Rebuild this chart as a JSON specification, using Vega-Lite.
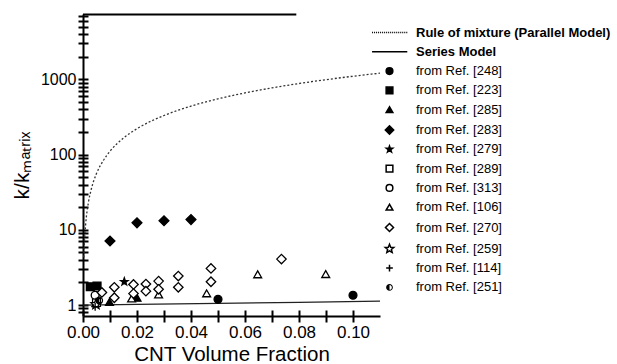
{
  "$schema": "https://vega.github.io/schema/vega-lite/v6.json",
  "width": 297,
  "height": 302,
  "autosize": "none",
  "padding": {"left": 83, "top": 14, "right": 237, "bottom": 48},
  "background": "white",
  "config": {
    "view": {"stroke": null},
    "font": "Liberation Sans",
    "axis": {"grid": false, "domainColor": "black", "domainWidth": 2, "tickColor": "black", "tickWidth": 2, "labelColor": "black", "titleColor": "black", "labelFont": "Liberation Sans", "titleFont": "Liberation Sans", "titleFontWeight": "normal", "labelFlush": false},
    "legend": {
      "orient": "none", "legendX": 300, "legendY": 12, "title": null,
      "symbolSize": 45, "symbolStrokeWidth": 1.5, "symbolOpacity": 1,
      "labelFontSize": 13, "labelColor": "black", "labelOffset": 20, "rowPadding": 5.3, "labelLimit": 300
    }
  },
  "datasets": {
    "pts": [
      {"v": 0.05, "k": 1.19, "s": "from Ref. [248]"},
      {"v": 0.10, "k": 1.35, "s": "from Ref. [248]"},
      {"v": 0.0027, "k": 1.75, "s": "from Ref. [223]"},
      {"v": 0.0052, "k": 1.79, "s": "from Ref. [223]"},
      {"v": 0.0098, "k": 1.1, "s": "from Ref. [285]"},
      {"v": 0.020, "k": 1.25, "s": "from Ref. [285]"},
      {"v": 0.010, "k": 7.1, "s": "from Ref. [283]"},
      {"v": 0.020, "k": 12.4, "s": "from Ref. [283]"},
      {"v": 0.030, "k": 13.2, "s": "from Ref. [283]"},
      {"v": 0.040, "k": 13.7, "s": "from Ref. [283]"},
      {"v": 0.0153, "k": 2.04, "s": "from Ref. [279]"},
      {"v": 0.005, "k": 1.08, "s": "from Ref. [289]"},
      {"v": 0.0045, "k": 1.35, "s": "from Ref. [313]"},
      {"v": 0.018, "k": 1.22, "s": "from Ref. [106]"},
      {"v": 0.028, "k": 1.38, "s": "from Ref. [106]"},
      {"v": 0.0458, "k": 1.43, "s": "from Ref. [106]"},
      {"v": 0.0647, "k": 2.56, "s": "from Ref. [106]"},
      {"v": 0.0899, "k": 2.58, "s": "from Ref. [106]"},
      {"v": 0.007, "k": 1.47, "s": "from Ref. [270]"},
      {"v": 0.0116, "k": 1.72, "s": "from Ref. [270]"},
      {"v": 0.0116, "k": 1.25, "s": "from Ref. [270]"},
      {"v": 0.0187, "k": 1.88, "s": "from Ref. [270]"},
      {"v": 0.0187, "k": 1.42, "s": "from Ref. [270]"},
      {"v": 0.0233, "k": 1.9, "s": "from Ref. [270]"},
      {"v": 0.0233, "k": 1.53, "s": "from Ref. [270]"},
      {"v": 0.028, "k": 2.08, "s": "from Ref. [270]"},
      {"v": 0.028, "k": 1.62, "s": "from Ref. [270]"},
      {"v": 0.0353, "k": 2.43, "s": "from Ref. [270]"},
      {"v": 0.0353, "k": 1.72, "s": "from Ref. [270]"},
      {"v": 0.0474, "k": 3.07, "s": "from Ref. [270]"},
      {"v": 0.0474, "k": 2.04, "s": "from Ref. [270]"},
      {"v": 0.0735, "k": 4.08, "s": "from Ref. [270]"},
      {"v": 0.0048, "k": 1.02, "s": "from Ref. [259]"},
      {"v": 0.0045, "k": 0.95, "s": "from Ref. [114]"},
      {"v": 0.006, "k": 1.15, "s": "from Ref. [251]"}
    ],
    "par": [
      {"v": 0.0003, "k": 4.3}, {"v": 0.0005, "k": 6.5}, {"v": 0.001, "k": 12}, {"v": 0.002, "k": 23},
      {"v": 0.003, "k": 34}, {"v": 0.005, "k": 56}, {"v": 0.0075, "k": 83}, {"v": 0.01, "k": 111},
      {"v": 0.015, "k": 166}, {"v": 0.02, "k": 221}, {"v": 0.03, "k": 331}, {"v": 0.04, "k": 441},
      {"v": 0.05, "k": 551}, {"v": 0.06, "k": 661}, {"v": 0.07, "k": 771}, {"v": 0.08, "k": 881},
      {"v": 0.09, "k": 991}, {"v": 0.1, "k": 1101}, {"v": 0.11, "k": 1211}
    ],
    "ser": [
      {"v": 0, "k": 1.0}, {"v": 0.02, "k": 1.02}, {"v": 0.05, "k": 1.053}, {"v": 0.08, "k": 1.087}, {"v": 0.11, "k": 1.124}
    ],
    "top": [
      {"v": 0, "k": 7300}, {"v": 0.079, "k": 7300}
    ]
  },
  "resolve": {"axis": {"x": "independent", "y": "independent"}},
  "layer": [
    {
      "data": {"name": "top"},
      "mark": {"type": "line", "color": "black", "strokeWidth": 2},
      "encoding": {
        "x": {"field": "v", "type": "quantitative", "scale": {"domain": [0, 0.11], "nice": false, "zero": false},
          "axis": {"orient": "bottom", "values": [0, 0.01, 0.02, 0.03, 0.04, 0.05, 0.06, 0.07, 0.08, 0.09, 0.1], "labels": false, "title": null, "domain": false, "tickSize": -6,
            "encode": {"ticks": {"update": {"y2": {"signal": "round(datum.value*100) % 2 == 0 ? -6 : -3"}}}}}},
        "y": {"field": "k", "type": "quantitative", "scale": {"type": "log", "domain": [0.715, 7400], "nice": false},
          "axis": {"orient": "left", "values": [0.8, 0.9, 1, 2, 3, 4, 5, 6, 7, 8, 9, 10, 20, 30, 40, 50, 60, 70, 80, 90, 100, 200, 300, 400, 500, 600, 700, 800, 900, 1000, 2000, 3000, 4000, 5000, 6000, 7000], "labels": false, "title": null, "domain": false, "tickSize": -5}}
      }
    },
    {
      "data": {"name": "par"},
      "mark": {"type": "line", "color": "#333", "strokeWidth": 1.3, "strokeDash": [2, 2], "interpolate": "monotone"},
      "encoding": {
        "x": {"field": "v", "type": "quantitative", "axis": null},
        "y": {"field": "k", "type": "quantitative", "axis": null}
      }
    },
    {
      "data": {"name": "ser"},
      "mark": {"type": "line", "color": "#222", "strokeWidth": 1.3},
      "encoding": {
        "x": {"field": "v", "type": "quantitative", "axis": null},
        "y": {"field": "k", "type": "quantitative", "axis": null}
      }
    },
    {
      "data": {"name": "pts"},
      "mark": {"type": "point", "size": 62, "strokeWidth": 1.3, "opacity": 1},
      "encoding": {
        "x": {
          "field": "v", "type": "quantitative",
          "axis": {
            "orient": "bottom",
            "values": [0, 0.01, 0.02, 0.03, 0.04, 0.05, 0.06, 0.07, 0.08, 0.09, 0.1],
            "format": ".2f",
            "labelExpr": "round(datum.value*100) % 2 == 0 ? datum.label : ''",
            "title": "CNT Volume Fraction",
            "titleFontSize": 20.5, "labelFontSize": 17, "tickSize": 6, "labelPadding": 2, "titlePadding": 4,
            "encode": {"ticks": {"update": {"y2": {"signal": "round(datum.value*100) % 2 == 0 ? 6 : 3"}}}}
          }
        },
        "y": {
          "field": "k", "type": "quantitative",
          "axis": {
            "orient": "left",
            "values": [0.8, 0.9, 1, 2, 3, 4, 5, 6, 7, 8, 9, 10, 20, 30, 40, 50, 60, 70, 80, 90, 100, 200, 300, 400, 500, 600, 700, 800, 900, 1000, 2000, 3000, 4000, 5000, 6000, 7000],
            "format": "d",
            "labelExpr": "datum.value == 1 || datum.value == 10 || datum.value == 100 || datum.value == 1000 ? datum.label : ''",
            "title": "k/kₘₐₜᵣᵢₓ",
            "titleFontSize": 21, "labelFontSize": 16, "tickSize": 5, "labelPadding": 2, "titlePadding": 8
          }
        },
        "shape": {
          "field": "s", "type": "nominal",
          "scale": {
            "domain": ["Rule of mixture (Parallel Model)", "Series Model", "from Ref. [248]", "from Ref. [223]", "from Ref. [285]", "from Ref. [283]", "from Ref. [279]", "from Ref. [289]", "from Ref. [313]", "from Ref. [106]", "from Ref. [270]", "from Ref. [259]", "from Ref. [114]", "from Ref. [251]"],
            "range": [
              "M-5.2,0H-4.9M-4.6,0H-4.3M-4,0H-3.7M-3.4,0H-3.1M-2.8,0H-2.5M-2.2,0H-1.9M-1.6,0H-1.3M-1,0H-0.7M-0.4,0H-0.1M0.2,0H0.5M0.8,0H1.1M1.4,0H1.7M2,0H2.3M2.6,0H2.9M3.2,0H3.5M3.8,0H4.1M4.4,0H4.7M5,0H5.3",
              "M-5.2,0H5.3",
              "circle", "square", "triangle-up", "M-1.25,0L0,-1.25L1.25,0L0,1.25Z",
              "M0,-1L0.235,-0.324L0.951,-0.309L0.38,0.124L0.588,0.809L0,0.4L-0.588,0.809L-0.38,0.124L-0.951,-0.309L-0.235,-0.324Z",
              "square", "circle", "triangle-up", "M-1.2,0L0,-1.2L1.2,0L0,1.2Z",
              "M0,-1.35L0.353,-0.485L1.284,-0.417L0.571,0.185L0.794,1.092L0,0.6L-0.794,1.092L-0.571,0.185L-1.284,-0.417L-0.353,-0.485Z",
              "M-1,0H1M0,-1V1",
              "M0,-1A1,1 0 0,1 0,1A1,1 0 0,1 0,-1ZM0,-0.7A0.7,0.7 0 0,0 0,0.7A0.7,0.7 0 0,0 0,-0.7ZM0,-0.7A0.7,0.7 0 0,0 0,0.7Z"
            ]
          },
          "legend": {
            "encode": {"labels": {"update": {"fontWeight": {"signal": "datum.index < 2 ? 'bold' : 'normal'"}}}}
          }
        },
        "fill": {
          "field": "s", "type": "nominal",
          "scale": {
            "domain": ["Rule of mixture (Parallel Model)", "Series Model", "from Ref. [248]", "from Ref. [223]", "from Ref. [285]", "from Ref. [283]", "from Ref. [279]", "from Ref. [289]", "from Ref. [313]", "from Ref. [106]", "from Ref. [270]", "from Ref. [259]", "from Ref. [114]", "from Ref. [251]"],
            "range": ["transparent", "transparent", "black", "black", "black", "black", "black", "white", "white", "white", "white", "white", "transparent", "black"]
          },
          "legend": {
            "encode": {"labels": {"update": {"fontWeight": {"signal": "datum.index < 2 ? 'bold' : 'normal'"}}}}
          }
        },
        "stroke": {
          "field": "s", "type": "nominal",
          "scale": {
            "domain": ["Rule of mixture (Parallel Model)", "Series Model", "from Ref. [248]", "from Ref. [223]", "from Ref. [285]", "from Ref. [283]", "from Ref. [279]", "from Ref. [289]", "from Ref. [313]", "from Ref. [106]", "from Ref. [270]", "from Ref. [259]", "from Ref. [114]", "from Ref. [251]"],
            "range": ["black", "black", "black", "black", "black", "black", "black", "black", "black", "black", "black", "black", "black", "transparent"]
          },
          "legend": {
            "encode": {"labels": {"update": {"fontWeight": {"signal": "datum.index < 2 ? 'bold' : 'normal'"}}}}
          }
        }
      }
    }
  ]
}
